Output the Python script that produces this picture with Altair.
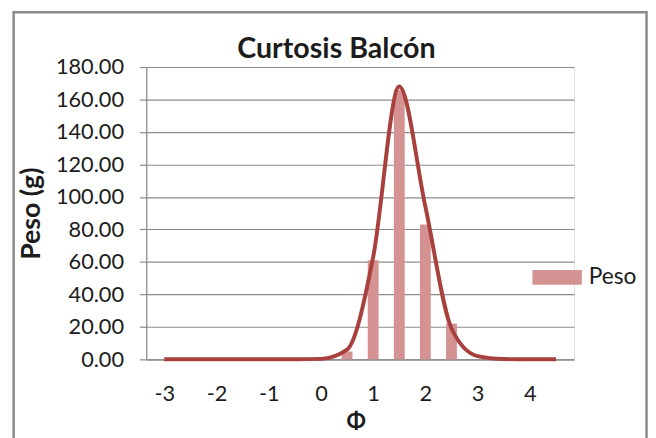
import altair as alt
import pandas as pd

phi = [-3, -2.5, -2, -1.5, -1, -0.5, 0, 0.5, 1, 1.5, 2, 2.5, 3, 3.5, 4, 4.5]
peso = [0, 0, 0, 0, 0, 0, 0, 4.8, 61, 166, 83, 22, 0, 0, 0, 0]
curva = [0, 0, 0, 0, 0, 0, 0.3, 6, 63, 168, 94, 19, 2, 0.2, 0, 0]
y_ticks = [0, 20, 40, 60, 80, 100, 120, 140, 160, 180]
x_ticks = [-3, -2, -1, 0, 1, 2, 3, 4]

FONT = "Lato"
GRID = "#8c8c8c"
BAR = "#d49293"
LINE = "#a8403d"
TXT = "#1c1c1c"

df = pd.DataFrame({"phi": phi, "peso": peso, "curva": curva, "serie": ["Peso"] * len(phi)})

xscale = alt.Scale(domain=[-3.25, 4.75], nice=False, zero=False)
yscale = alt.Scale(domain=[0, 180], nice=False)

frame = alt.Chart(pd.DataFrame({"a": [0]})).mark_rect(
    fill="transparent", stroke="#8a8a8a", strokeWidth=2.5
).encode(
    x=alt.value(-134.3), x2=alt.value(506.5), y=alt.value(-55.5), y2=alt.value(420)
)

bars = alt.Chart(df).mark_bar(size=11).encode(
    x=alt.X(
        "phi:Q", scale=xscale,
        axis=alt.Axis(
            values=x_ticks, tickCount=20, grid=False, ticks=False, tickSize=0,
            labelExpr="datum.value < 0 ? '-' + abs(datum.value) : '' + datum.value",
            labelOverlap=False,
            labelPadding=25, labelFontSize=22, labelFont=FONT, labelColor=TXT,
            domainColor=GRID, domainWidth=1.2,
            title="Φ", titleFont=FONT, titleFontSize=23, titleFontWeight="bold",
            titleColor=TXT, titleBaseline="middle", titleY=63, titleX=212,
        ),
    ),
    y=alt.Y(
        "peso:Q", scale=yscale,
        axis=alt.Axis(
            values=y_ticks, tickCount=20, format=".2f", grid=True, gridColor=GRID,
            gridWidth=1.2, labelOverlap=False,
            tickSize=7, tickColor=GRID, tickWidth=1.2, domainColor=GRID, domainWidth=1.2,
            labelPadding=16, labelFontSize=22, labelFont=FONT, labelColor=TXT,
            title="Peso (g)", titleFont=FONT, titleFontSize=27, titleFontWeight="bold",
            titleColor=TXT, titleBaseline="middle", titleX=-116, titleY=148, titleAngle=-90,
        ),
    ),
    color=alt.Color(
        "serie:N",
        scale=alt.Scale(range=[BAR]),
        legend=alt.Legend(
            title=None, orient="none", legendX=391, legendY=188, padding=0,
            symbolType="M-1,-0.3H1V0.3H-1Z", symbolSize=2500, symbolStrokeWidth=0,
            symbolOpacity=1, labelFont=FONT, labelFontSize=23, labelColor=TXT,
            labelOffset=7,
        ),
    ),
)

line = alt.Chart(df).mark_line(
    color=LINE, strokeWidth=4, interpolate="monotone"
).encode(
    x=alt.X("phi:Q", scale=xscale),
    y=alt.Y("curva:Q", scale=yscale),
)

chart = alt.layer(frame, bars, line).properties(
    width=433,
    height=296,
    title=alt.TitleParams(
        "Curtosis Balcón", font=FONT, fontSize=29, fontWeight="bold", color=TXT,
        anchor="middle", frame="group", dx=-24, dy=76.5, baseline="alphabetic", offset=0,
    ),
    autosize=alt.AutoSizeParams(type="none"),
    padding={"left": 140, "top": 57, "right": 75, "bottom": 85},
).configure_view(stroke=None).configure(background="white")

chart.save("out.html", embed_options={"renderer": "svg", "actions": False})
